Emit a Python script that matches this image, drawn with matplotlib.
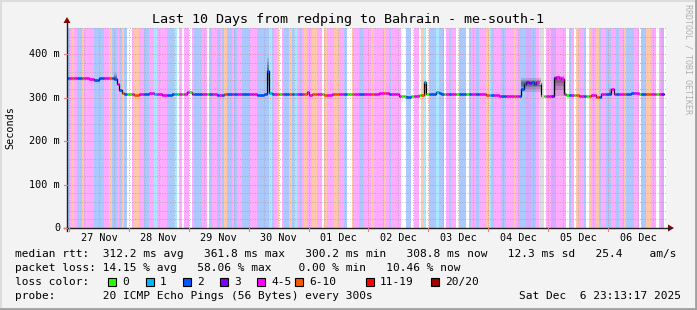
import numpy as np
import matplotlib
matplotlib.use("Agg")
import matplotlib.pyplot as plt
from matplotlib.collections import LineCollection
from matplotlib.patches import Rectangle, Polygon
from matplotlib.lines import Line2D

# ---------------- data ----------------
# loss categories: 0:"0" 1:"1" 2:"2" 3:"3" 4:"4-5" 5:"6-10" 6:"11-19" 7:"20/20" 8:unknown
loss_cat = [2, 4, 5, 4, 2, 5, 4, 2, 4, 5, 2, 4, 2, 5, 2, 0, 4, 5, 4, 2, 4, 1, 4,
            2, 1, 0, 4, 0, 4, 0, 4, 2, 4, 0, 2, 4, 2, 4, 2, 5, 2, 4, 2, 4, 2, 4, 2,
            2, 1, 2, 4, 5, 0, 4, 2, 5, 2, 1, 4, 2, 4, 5, 4, 5, 4, 0, 5, 4, 5, 4, 2, 0, 5, 4, 2,
            4, 5, 4, 5, 4, 2, 4, 0, 2, 0, 4, 0, 5, 1, 0, 2, 1, 2, 0, 4, 2, 4, 0, 2,
            2, 0, 2, 4, 2, 4, 5, 1, 2, 4, 2, 4, 5, 4, 2, 3, 2, 4, 8, 0, 4, 3, 4,
            4, 0, 2, 4, 0, 5, 4, 2, 0, 5, 4, 5, 2, 4, 2, 4, 2, 4, 5, 2, 4, 0, 2, 5, 4, 0, 4, 3]
loss_hours = [1, 1, 1, 1, 2, 1, 4, 4, 2, 1, 2, 1, 1, 1, 1, 2, 1, 2, 2, 2, 2, 1, 4,
              3, 1, 1, 1, 1, 2, 1, 1, 3, 2, 1, 1, 2, 1, 1, 1, 1, 2, 1, 1, 2, 3, 3, 4,
              1, 1, 1, 1, 1, 1, 1, 2, 1, 1, 1, 1, 1, 1, 1, 2, 2, 2, 1, 1, 3, 2, 2, 1, 2, 1, 2, 2,
              3, 1, 4, 1, 1, 1, 4, 2, 2, 1, 2, 1, 1, 1, 1, 3, 1, 2, 1, 1, 1, 2, 1, 2,
              1, 1, 1, 2, 1, 3, 1, 1, 1, 3, 2, 3, 1, 1, 3, 2, 2, 1, 2, 1, 2, 2, 3,
              1, 1, 1, 1, 1, 1, 2, 1, 1, 1, 2, 1, 1, 2, 2, 2, 1, 2, 1, 3, 2, 1, 2, 2, 2, 1, 1, 1]

median_ms = [345, 343, 340, 342, 346, 344, 333, 318, 312, 309,
             310, 307, 309, 311, 308, 307, 309, 310,
             313, 314, 310, 308, 309, 306, 310, 309, 308, 307, 310,
             362,
             312, 309, 308, 310, 314, 306, 309, 306, 309, 310, 308,
             310, 311, 309, 304, 302, 304, 306,
             336,
             310, 313, 311, 308, 309, 306, 304,
             320, 332, 336, 334, 337, 333, 336, 334,
             305, 346, 347, 345, 343,
             310, 306, 305, 307, 302, 308,
             320,
             310, 308, 312, 310]
median_hours = [9, 2, 1, 1, 6, 1, 1, 1, 1, 1,
                3, 2, 4, 2, 3, 4, 2, 4,
                1, 1, 4, 3, 3, 3, 4, 5, 4, 3, 1,
                1,
                1, 5, 4, 5, 1, 1, 5, 3, 4, 6, 4,
                5, 4, 4, 3, 2, 3, 2,
                1,
                4, 1, 1, 10, 8, 5, 9,
                1, 1, 1, 1, 1, 1, 1, 1,
                5, 1, 1, 1, 1,
                1, 5, 5, 2, 2, 4,
                1,
                3, 4, 3, 11]

smoke_start_h = [19, 80, 143, 182, 195, 217]
smoke_end_h = [20, 81, 144, 190, 199, 218]
smoke_low_ms = [340, 312, 305, 314, 305, 308]
smoke_high_ms = [358, 392, 338, 346, 350, 322]

day_labels = ["27 Nov", "28 Nov", "29 Nov", "30 Nov", "01 Dec",
              "02 Dec", "03 Dec", "04 Dec", "05 Dec", "06 Dec"]
ytick_values = [0, 100, 200, 300, 400]
ytick_labels = ["0", "100 m", "200 m", "300 m", "400 m"]
legend_labels = ["0", "1", "2", "3", "4-5", "6-10", "11-19", "20/20"]
loss_colors = ["#26ff00", "#00b8ff", "#0059ff", "#7e00ff", "#ff00ff",
               "#ff5500", "#ff0000", "#a10000", "#cccccc"]
band_colors = ["#ffffff", "#abe8ff", "#abc8ff", "#d4abff", "#ffabff",
               "#ffc8ab", "#ffabab", "#e0abab", "#dddddd"]

stat_line1 = "median rtt:  312.2 ms avg   361.8 ms max   300.2 ms min   308.8 ms now   12.3 ms sd   25.4    am/s"
stat_line2 = "packet loss: 14.15 % avg   58.06 % max    0.00 % min   10.46 % now"
probe_line = "probe:       20 ICMP Echo Pings (56 Bytes) every 300s"
date_line = "Sat Dec  6 23:13:17 2025"
title = "Last 10 Days from redping to Bahrain - me-south-1"

# ---------------- layout ----------------
W, H = 697, 310
DPI = 100
BG = "#f3f3f3"
MONO = "DejaVu Sans Mono"
TOTAL_H = 240.0
MIDNIGHT0 = 0.7786  # hours from start to 27 Nov 00:00

def fx(x):
    return x / W

def fy(y):
    return 1 - y / H

fig = plt.figure(figsize=(W / DPI, H / DPI), dpi=DPI, facecolor=BG)
L, R, T, B = 67, 666, 28, 228
ax = fig.add_axes([fx(L), fy(B), (R - L) / W, (B - T) / H])
ax.set_xlim(0, TOTAL_H)
ax.set_ylim(0, 461)
ax.set_facecolor("white")
for s in ax.spines.values():
    s.set_visible(False)
ax.set_xticks([])
ax.set_yticks([])

# bands
cats_hourly = np.repeat(loss_cat, loss_hours)
edges = np.concatenate([[0], np.cumsum(loss_hours)])
for c, t0, t1 in zip(loss_cat, edges[:-1], edges[1:]):
    ax.axvspan(t0, t1, color=band_colors[c], lw=0, zorder=0)

# grid
for v in range(20, 461, 20):
    if v % 100 == 0:
        ax.axhline(v, color="#e08080", lw=0.6, ls=(0, (1, 2)), zorder=1)
    else:
        ax.axhline(v, color="#a0a0a0", lw=0.6, ls=(0, (1, 2)), zorder=1)
t = MIDNIGHT0
k = 0
while t < TOTAL_H:
    if k % 4 == 0:
        ax.axvline(t, color="#e08080", lw=0.6, ls=(0, (1, 2)), zorder=1)
    else:
        ax.axvline(t, color="#a0a0a0", lw=0.6, ls=(0, (1, 2)), zorder=1)
    t += 6
    k += 1

# smoke
med_hourly = np.repeat(median_ms, median_hours).astype(float)
for s0, s1, lo, hi in zip(smoke_start_h, smoke_end_h, smoke_low_ms, smoke_high_ms):
    mid = med_hourly[s0:s1].mean()
    for frac, a in [(1.0, 0.15), (0.7, 0.15), (0.45, 0.18), (0.25, 0.2)]:
        ax.fill_between([s0, s1], mid - (mid - lo) * frac, mid + (hi - mid) * frac,
                        color="#202020", alpha=a, lw=0, zorder=2)

# median line
n = min(len(med_hourly), len(cats_hourly), int(TOTAL_H))
hrs = np.arange(n + 1)
ax.step(hrs, np.append(med_hourly[:n], med_hourly[n - 1]), where="post",
        color="black", lw=0.9, zorder=3)
segs = [[(i, med_hourly[i]), (i + 1, med_hourly[i])] for i in range(n)]
cols = [loss_colors[cats_hourly[i]] for i in range(n)]
ax.add_collection(LineCollection(segs, colors=cols, linewidths=2.0, zorder=4,
                                 capstyle="butt"))

# axes lines + arrows (figure coords)
AX_COL = "#202020"
ARROW = "#8b0000"
fig.add_artist(Line2D([fx(L), fx(L)], [fy(B + 3), fy(22)], color=AX_COL, lw=1))
fig.add_artist(Line2D([fx(L - 3), fx(670)], [fy(B), fy(B)], color=AX_COL, lw=1))
fig.add_artist(Polygon([[fx(L - 3.5), fy(23)], [fx(L + 3.5), fy(23)], [fx(L), fy(17)]],
                       closed=True, color=ARROW, lw=0))
fig.add_artist(Polygon([[fx(668), fy(B - 3.5)], [fx(668), fy(B + 3.5)], [fx(674), fy(B)]],
                       closed=True, color=ARROW, lw=0))

# y ticks
for v, lab in zip(ytick_values, ytick_labels):
    yp = B - v * (B - T) / 461
    fig.text(fx(60), fy(yp), lab, ha="right", va="center", family=MONO,
             fontsize=7.3, color="black")
    fig.add_artist(Line2D([fx(L - 3), fx(L)], [fy(yp), fy(yp)], color="#e08080", lw=0.8))

# x tick labels and day ticks
for i, lab in enumerate(day_labels):
    hx = MIDNIGHT0 + 12 + 24 * i
    xp = L + hx * (R - L) / TOTAL_H
    fig.text(fx(xp), fy(238), lab, ha="center", va="center", family=MONO,
             fontsize=7.3, color="black")
    hm = MIDNIGHT0 + 24 * i
    xm = L + hm * (R - L) / TOTAL_H
    fig.add_artist(Line2D([fx(xm), fx(xm)], [fy(B), fy(B + 3)], color="#e08080", lw=0.8))

fig.text(fx(10), fy(128), "Seconds", rotation=90, ha="center", va="center",
         family=MONO, fontsize=7.3, color="black")

fig.text(fx(348), fy(19.5), title, ha="center", va="center", family=MONO,
         fontsize=9.6, color="black")

fig.text(fx(688), fy(4), "RRDTOOL / TOBI OETIKER", rotation=270, ha="center", va="top",
         family=MONO, fontsize=6.0, color="#b0b0b0")

# legend text
fs = 8.05
fig.text(fx(15), fy(254), stat_line1, ha="left", va="center", family=MONO, fontsize=fs)
fig.text(fx(15), fy(268), stat_line2, ha="left", va="center", family=MONO, fontsize=fs)
fig.text(fx(15), fy(282), "loss color:", ha="left", va="center", family=MONO, fontsize=fs)
box_x = [108, 146, 183, 220, 257, 295, 366, 431]
for bx, lab, col in zip(box_x, legend_labels, loss_colors):
    fig.add_artist(Rectangle((fx(bx), fy(286)), 8 / W, 8 / H, facecolor=col,
                             edgecolor="black", lw=0.8))
    fig.text(fx(bx + 14), fy(282), lab, ha="left", va="center", family=MONO, fontsize=fs)
fig.text(fx(15), fy(296), probe_line, ha="left", va="center", family=MONO, fontsize=fs)
fig.text(fx(681), fy(296), date_line, ha="right", va="center", family=MONO, fontsize=fs)

# image border
fig.add_artist(Line2D([0, 1], [fy(0.5), fy(0.5)], color="#dcdcdc", lw=1.5))
fig.add_artist(Line2D([fx(0.5), fx(0.5)], [0, 1], color="#dcdcdc", lw=1.5))
fig.add_artist(Line2D([0, 1], [fy(H - 1), fy(H - 1)], color="#a0a0a0", lw=2))
fig.add_artist(Line2D([fx(W - 1), fx(W - 1)], [0, 1], color="#a0a0a0", lw=2))

fig.savefig("out.png", dpi=DPI, facecolor=BG)
